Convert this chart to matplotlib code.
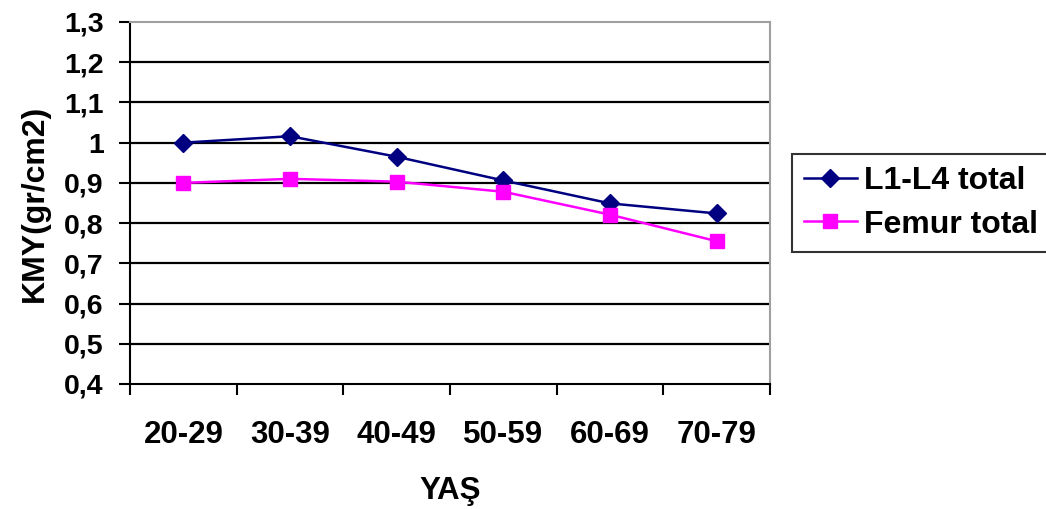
import matplotlib
matplotlib.use("Agg")
from matplotlib import pyplot as plt
import numpy as np

# age groups and bone mineral density (gr/cm2)
yas = ["20-29", "30-39", "40-49", "50-59", "60-69", "70-79"]
l1_l4 = [1.0, 1.016, 0.965, 0.906, 0.849, 0.824]
femur = [0.9, 0.91, 0.903, 0.878, 0.821, 0.755]
yticks = [0.4, 0.5, 0.6, 0.7, 0.8, 0.9, 1.0, 1.1, 1.2, 1.3]
ylabels = ["0,4", "0,5", "0,6", "0,7", "0,8", "0,9", "1", "1,1", "1,2", "1,3"]

plt.rcParams['font.family'] = ['Liberation Sans', 'DejaVu Sans']
plt.rcParams['font.weight'] = 'bold'

fig = plt.figure(figsize=(10.46, 5.09), dpi=100)
ax = fig.add_axes([0.1243, 0.2456, 0.7361 - 0.1243, 0.9568 - 0.2456])

x = np.arange(len(yas))
ax.plot(x, l1_l4, color="#000080", lw=1.8, marker="D", ms=9,
        label="L1-L4 total", zorder=3)
ax.plot(x, femur, color="#FF00FF", lw=1.8, marker="s", ms=10,
        label="Femur total", zorder=3)

ax.set_xlim(-0.5, len(yas) - 0.5)
ax.set_ylim(0.4, 1.3)
ax.set_yticks(yticks)
ax.set_yticklabels(ylabels, fontsize=20.5, fontweight="bold")
for v in yticks[1:-1]:
    ax.axhline(v, color="black", lw=1.6, zorder=1)

# category labels centred, tick marks at the boundaries
ax.set_xticks(x)
ax.set_xticklabels(yas, fontsize=22.5, fontweight="bold")
ax.tick_params(axis="x", which="major", length=0, pad=26)
ax.set_xticks(np.arange(-0.5, len(yas)), minor=True)
ax.tick_params(axis="x", which="minor", length=8, width=1.5, direction="out")
ax.tick_params(axis="y", length=8, width=1.5, direction="out", pad=11)

for side in ["top", "right"]:
    ax.spines[side].set_color("#A0A0A0")
    ax.spines[side].set_linewidth(1.5)
for side in ["left", "bottom"]:
    ax.spines[side].set_color("black")
    ax.spines[side].set_linewidth(1.5)

ax.set_xlabel("YAŞ", fontsize=22.5, fontweight="bold", labelpad=19)
ax.set_ylabel("KMY(gr/cm2)", fontsize=23, fontweight="bold", labelpad=10)

leg = fig.legend(loc="upper left", bbox_to_anchor=(792 / 1046, 1 - 154 / 509),
                 fontsize=23, frameon=True, fancybox=False, handlelength=1.65,
                 borderpad=0.38, labelspacing=0.42, handletextpad=0.22,
                 borderaxespad=0)
leg.get_frame().set_edgecolor("black")
leg.get_frame().set_linewidth(1.5)
for t in leg.get_texts():
    t.set_fontweight("bold")

fig.savefig("out.png", dpi=100)
